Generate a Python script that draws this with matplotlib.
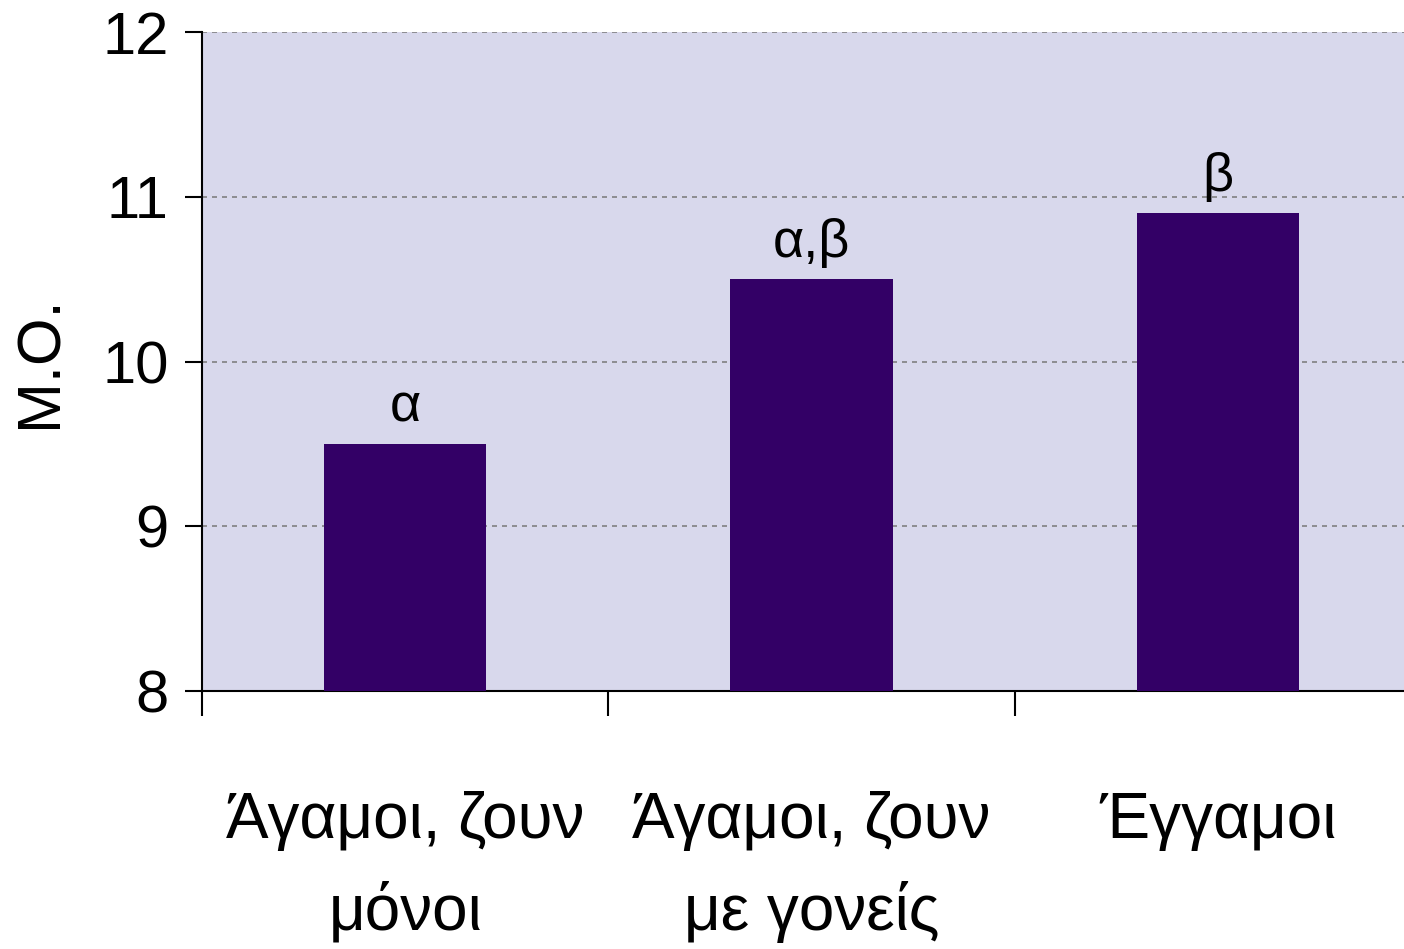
import matplotlib.pyplot as plt

# data
categories = ['Άγαμοι, ζουν\nμόνοι', 'Άγαμοι, ζουν\nμε γονείς', 'Έγγαμοι']
means = [9.5, 10.5, 10.9]
groups = ['α', 'α,β', 'β']

plt.rcParams['font.family'] = ['Liberation Sans', 'DejaVu Sans']

fig = plt.figure(figsize=(14.04, 9.49), dpi=100)
ax = fig.add_axes([202 / 1404, 1 - 691 / 949, 1219 / 1404, (691 - 32) / 949])
ax.set_facecolor('#d8d8ec')

x = list(range(len(categories)))
bars = ax.bar(x, means, width=0.4, color='#330066', zorder=3)

for b, g in zip(bars, groups):
    ax.annotate(g, (b.get_x() + b.get_width() / 2, b.get_height()),
                xytext=(0, 8), textcoords='offset points',
                ha='center', va='bottom', fontsize=39)

ax.set_xlim(-0.5, 2.5)
ax.set_ylim(8, 12)
ax.set_yticks([8, 9, 10, 11, 12])
ax.tick_params(axis='y', labelsize=43, length=12, width=1.5, pad=12)

ax.set_xticks([-0.5, 0.5, 1.5])
ax.set_xticklabels([])
ax.tick_params(axis='x', which='major', length=18, width=1.5)
ax.set_xticks(x, minor=True)
ax.set_xticklabels(categories, minor=True, fontsize=46, linespacing=1.62)
ax.tick_params(axis='x', which='minor', length=0, pad=72)

ax.yaxis.grid(True, color='#808080', linestyle=(0, (3, 3)), linewidth=1.2, zorder=1)
ax.set_axisbelow(True)

for s in ['top', 'right']:
    ax.spines[s].set_visible(False)
ax.spines['left'].set_linewidth(1.5)
ax.spines['bottom'].set_linewidth(1.5)

ax.set_ylabel('Μ.Ο.', fontsize=44)
ax.yaxis.set_label_coords(-0.109, 0.5)

fig.savefig('out.png', dpi=100)
